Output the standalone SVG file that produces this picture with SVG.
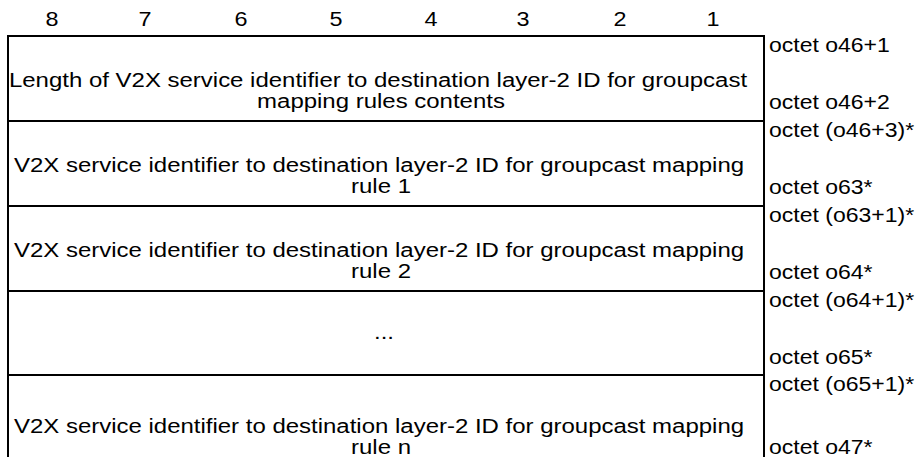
<svg xmlns="http://www.w3.org/2000/svg" width="919" height="457" viewBox="0 0 919 457">
<style>
.t{font-family:"Liberation Sans",Arial,sans-serif;font-size:19.5px;fill:#000}
.c{text-anchor:middle}
.cell{fill:none;stroke:#000;stroke-width:2}
</style>
<rect width="919" height="457" fill="#fff"/>
<g id="header">
<text class="t c" transform="translate(52,26) scale(1.2,1)">8</text>
<text class="t c" transform="translate(145,26) scale(1.2,1)">7</text>
<text class="t c" transform="translate(241,26) scale(1.2,1)">6</text>
<text class="t c" transform="translate(336,26) scale(1.2,1)">5</text>
<text class="t c" transform="translate(431,26) scale(1.2,1)">4</text>
<text class="t c" transform="translate(523,26) scale(1.2,1)">3</text>
<text class="t c" transform="translate(620,26) scale(1.2,1)">2</text>
<text class="t c" transform="translate(713,26) scale(1.2,1)">1</text>
</g>
<g id="row1" transform="translate(0,36)">
<rect class="cell" x="8" y="0" width="756" height="85"/>
<text class="t c" transform="translate(378,51) scale(1.23,1)">Length of V2X service identifier to destination layer-2 ID for groupcast</text>
<text class="t c" transform="translate(381,72) scale(1.23,1)">mapping rules contents</text>
<text class="t" transform="translate(769,16) scale(1.18,1)">octet o46+1</text>
<text class="t" transform="translate(769,73) scale(1.18,1)">octet o46+2</text>
</g>
<g id="row2" transform="translate(0,121)">
<rect class="cell" x="8" y="0" width="756" height="85"/>
<text class="t c" transform="translate(379,51) scale(1.23,1)">V2X service identifier to destination layer-2 ID for groupcast mapping</text>
<text class="t c" transform="translate(381,72) scale(1.23,1)">rule 1</text>
<text class="t" transform="translate(769,16) scale(1.18,1)">octet (o46+3)*</text>
<text class="t" transform="translate(769,73) scale(1.18,1)">octet o63*</text>
</g>
<g id="row3" transform="translate(0,206)">
<rect class="cell" x="8" y="0" width="756" height="85"/>
<text class="t c" transform="translate(379,51) scale(1.23,1)">V2X service identifier to destination layer-2 ID for groupcast mapping</text>
<text class="t c" transform="translate(381,72) scale(1.23,1)">rule 2</text>
<text class="t" transform="translate(769,16) scale(1.18,1)">octet (o63+1)*</text>
<text class="t" transform="translate(769,73) scale(1.18,1)">octet o64*</text>
</g>
<g id="row4" transform="translate(0,291)">
<rect class="cell" x="8" y="0" width="756" height="84"/>
<text class="t c" transform="translate(384,48) scale(1.23,1)">...</text>
<text class="t" transform="translate(769,16) scale(1.18,1)">octet (o64+1)*</text>
<text class="t" transform="translate(769,73) scale(1.18,1)">octet o65*</text>
</g>
<g id="row5" transform="translate(0,375)">
<rect class="cell" x="8" y="0" width="756" height="90"/>
<text class="t c" transform="translate(379,58) scale(1.23,1)">V2X service identifier to destination layer-2 ID for groupcast mapping</text>
<text class="t c" transform="translate(381,79) scale(1.23,1)">rule n</text>
<text class="t" transform="translate(769,16) scale(1.18,1)">octet (o65+1)*</text>
<text class="t" transform="translate(769,79) scale(1.18,1)">octet o47*</text>
</g>
<g id="connectors"/>
</svg>
